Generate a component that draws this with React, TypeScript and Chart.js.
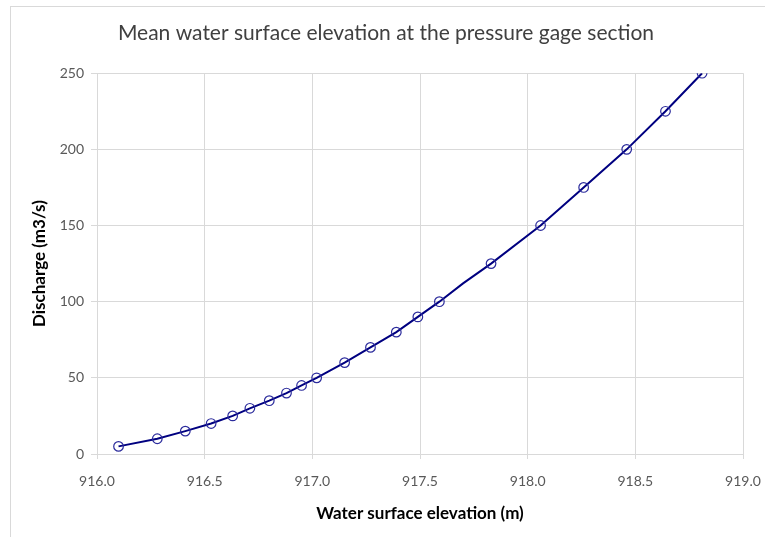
import React, { useEffect, useRef } from "react";
import { Chart, registerables } from "chart.js";

Chart.register(...registerables);

// Water surface elevation (m) at the pressure gage section
const elevation = [
  916.1, 916.28, 916.41, 916.53, 916.63, 916.71, 916.8, 916.88, 916.95, 917.02,
  917.15, 917.27, 917.39, 917.49, 917.59, 917.7, 917.83, 918.06, 918.26, 918.46,
  918.64, 918.81,
];
// Discharge (m3/s)
const discharge = [
  5, 10, 15, 20, 25, 30, 35, 40, 45, 50, 60, 70, 80, 90, 100, 112, 125, 150, 175,
  200, 225, 250,
];
// Curve vertices that carry no marker
const unmarked = [15];

const xTicks = [916.0, 916.5, 917.0, 917.5, 918.0, 918.5, 919.0];
const yTicks = [0, 50, 100, 150, 200, 250];

const FONT = "Lato, 'Open Sans', sans-serif";

export default function App() {
  const canvasRef = useRef<HTMLCanvasElement | null>(null);

  useEffect(() => {
    document.body.style.margin = "0";
    const canvas = canvasRef.current;
    if (!canvas) return;
    const chart = new Chart(canvas, {
      type: "scatter",
      data: {
        datasets: [
          {
            label: "Discharge",
            data: elevation.map((x, i) => ({ x, y: discharge[i] })),
            showLine: true,
            borderColor: "#000080",
            borderWidth: 2,
            pointRadius: (ctx: any) => (unmarked.includes(ctx.dataIndex) ? 0 : 4.8),
            pointBorderColor: "#2b2b9c",
            pointBackgroundColor: "rgba(0,0,0,0)",
            pointBorderWidth: 1.2,
            tension: 0,
          },
        ],
      },
      options: {
        responsive: false,
        animation: false,
        layout: { padding: { left: 29, right: 22, top: 0, bottom: 13 } },
        plugins: {
          legend: { display: false },
          tooltip: { enabled: false },
          title: {
            display: true,
            text: "Mean water surface elevation at the pressure gage section",
            color: "#404040",
            font: { family: FONT, size: 21, weight: "normal" },
            padding: { top: 21, bottom: 27 },
          },
        },
        scales: {
          x: {
            type: "linear",
            min: 916,
            max: 919,
            afterBuildTicks: (axis: any) => {
              axis.ticks = xTicks.map((v) => ({ value: v }));
            },
            afterFit: (axis: any) => {
              axis.height = 537 - 13 - 454;
              axis.paddingLeft = 0;
              axis.paddingRight = 0;
            },
            ticks: {
              color: "#595959",
              font: { family: FONT, size: 14 },
              padding: 14,
              callback: (v: any) => Number(v).toFixed(1),
            },
            grid: { color: "#d9d9d9", tickLength: 5, lineWidth: 1 },
            border: { color: "#d9d9d9" },
            title: {
              display: true,
              text: "Water surface elevation (m)",
              color: "#000000",
              font: { family: FONT, size: 17, weight: "bold" },
              padding: { top: 8, bottom: 0 },
            },
          },
          y: {
            type: "linear",
            min: 0,
            max: 250,
            afterBuildTicks: (axis: any) => {
              axis.ticks = yTicks.map((v) => ({ value: v }));
            },
            afterFit: (axis: any) => {
              axis.width = 97 - 29;
              axis.paddingTop = 0;
              axis.paddingBottom = 0;
            },
            ticks: {
              color: "#595959",
              font: { family: FONT, size: 14 },
              padding: 7,
            },
            grid: { color: "#d9d9d9", tickLength: 6, lineWidth: 1 },
            border: { color: "#d9d9d9" },
            title: {
              display: true,
              text: "Discharge (m3/s)",
              color: "#000000",
              font: { family: FONT, size: 17, weight: "bold" },
              padding: { top: 0, bottom: 10 },
            },
          },
        },
      },
    });
    return () => chart.destroy();
  }, []);

  return (
    <div style={{ position: "relative", width: 765, height: 537, background: "#fff", overflow: "hidden" }}>
      <div
        style={{
          position: "absolute",
          left: 10,
          top: 6,
          width: 800,
          height: 600,
          borderLeft: "1px solid #d9d9d9",
          borderTop: "1px solid #d9d9d9",
        }}
      />
      <canvas ref={canvasRef} width={765} height={537} style={{ position: "absolute", left: 0, top: 0 }} />
    </div>
  );
}
